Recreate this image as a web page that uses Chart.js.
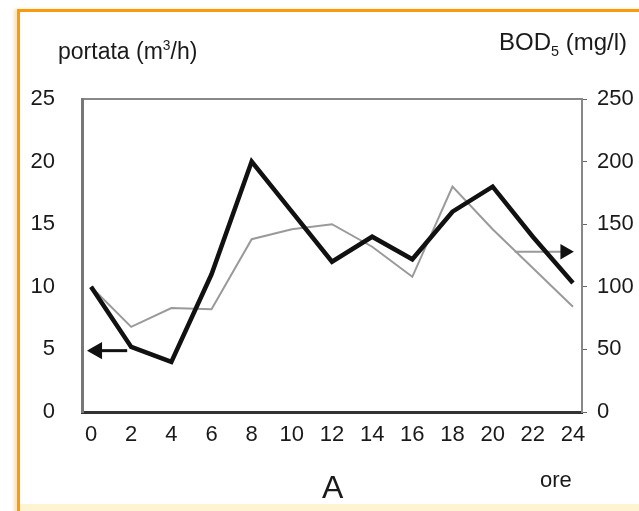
<!DOCTYPE html>
<html>
<head>
<meta charset="utf-8">
<script src="https://cdn.jsdelivr.net/npm/chart.js@4.4.0/dist/chart.umd.min.js"></script>
<style>
  html, body { margin: 0; padding: 0; background: #fff; }
  #wrap { position: relative; width: 639px; height: 511px; overflow: hidden; font-family: "Liberation Sans", Arial, sans-serif; color: #1a1a1a; }
  #frame { position: absolute; left: 17px; top: 9px; width: 640px; height: 510px; border-top: 3px solid #f89c0e; border-left: 3px solid #f89c0e; box-shadow: -3px 0 3px #fde3b8; }
  #band { position: absolute; left: 20px; top: 504px; width: 620px; height: 7px; background: #fff4d2; }
  #chart { position: absolute; left: 0; top: 0; }
  .lbl { position: absolute; white-space: nowrap; }
  sup, sub { font-size: 60%; }
</style>
</head>
<body>
<div id="wrap">
  <div id="frame"></div>
  <div id="band"></div>
  <canvas id="chart" width="639" height="511"></canvas>
  <div class="lbl" style="left:58px; top:38px; font-size:23px;">portata (m<sup>3</sup>/h)</div>
  <div class="lbl" style="left:499px; top:28px; font-size:24px;">BOD<sub>5</sub> (mg/l)</div>
  <div class="lbl" style="left:322px; top:469px; font-size:32px;">A</div>
  <div class="lbl" style="left:540px; top:467px; font-size:22px;">ore</div>
</div>
<script>
document.addEventListener('DOMContentLoaded', function () {
    // ore del giorno
    const hours = [0, 2, 4, 6, 8, 10, 12, 14, 16, 18, 20, 22, 24];
    // portata (m3/h), asse sinistro
    const portata = [10, 5.2, 4, 11, 20, 16, 12, 14, 12.2, 16, 18, 14, 10.3];
    // BOD5 (mg/l), asse destro
    const bod = [100, 68, 83, 82, 138, 146, 150, 132, 108, 180, 146, 115, 84];
    const leftTicks = [0, 5, 10, 15, 20, 25];
    const rightTicks = [0, 50, 100, 150, 200, 250];
    // frecce che indicano l'asse di ciascuna curva
    const arrowPortata = [{ x: 0.3, y: 4.9 }, { x: 1.8, y: 4.9 }];
    const arrowBod = [{ x: 21.1, y: 128 }, { x: 23.6, y: 128 }];

    const tickFont = { family: '"Liberation Sans", Arial, sans-serif', size: 22 };

    const ctx = document.getElementById('chart').getContext('2d');
    new Chart(ctx, {
        type: 'line',
        data: {
            datasets: [{
                label: 'portata',
                data: hours.map((h, i) => ({ x: h, y: portata[i] })),
                yAxisID: 'y',
                borderColor: '#111',
                borderWidth: 4.5,
                pointRadius: 0,
                tension: 0
            }, {
                label: 'BOD5',
                data: hours.map((h, i) => ({ x: h, y: bod[i] })),
                yAxisID: 'y1',
                borderColor: '#9a9a9a',
                borderWidth: 2,
                pointRadius: 0,
                tension: 0
            }, {
                label: 'freccia portata',
                data: arrowPortata,
                yAxisID: 'y',
                borderColor: '#111',
                borderWidth: 3,
                pointStyle: 'triangle',
                pointRadius: [7, 0],
                pointRotation: -90,
                pointBackgroundColor: '#111',
                pointBorderColor: '#111'
            }, {
                label: 'freccia BOD',
                data: arrowBod,
                yAxisID: 'y1',
                borderColor: '#999',
                borderWidth: 2,
                pointStyle: 'triangle',
                pointRadius: [0, 7],
                pointRotation: 90,
                pointBackgroundColor: '#111',
                pointBorderColor: '#111'
            }]
        },
        options: {
            responsive: false,
            animation: false,
            layout: { padding: { top: 99, left: 0, right: 0, bottom: 0 } },
            plugins: { legend: { display: false }, tooltip: { enabled: false } },
            scales: {
                x: {
                    type: 'linear',
                    min: -0.45,
                    max: 24.45,
                    afterBuildTicks: function (axis) { axis.ticks = hours.map(v => ({ value: v })); },
                    afterFit: function (axis) { axis.height = 99; },
                    grid: { display: false, drawOnChartArea: false },
                    border: { color: '#333', width: 3 },
                    ticks: { color: '#1a1a1a', font: tickFont, padding: 2, maxRotation: 0 }
                },
                xTop: {
                    type: 'linear',
                    position: 'top',
                    min: -0.45,
                    max: 24.45,
                    afterFit: function (axis) { axis.height = 0; },
                    grid: { display: false },
                    border: { color: '#888', width: 2 },
                    ticks: { display: false }
                },
                y: {
                    position: 'left',
                    min: 0,
                    max: 25,
                    afterBuildTicks: function (axis) { axis.ticks = leftTicks.map(v => ({ value: v })); },
                    afterFit: function (axis) { axis.width = 82; },
                    grid: { display: false },
                    border: { color: '#777', width: 3 },
                    ticks: { color: '#1a1a1a', font: tickFont, padding: 19 }
                },
                y1: {
                    position: 'right',
                    min: 0,
                    max: 250,
                    afterBuildTicks: function (axis) { axis.ticks = rightTicks.map(v => ({ value: v })); },
                    afterFit: function (axis) { axis.width = 57; },
                    grid: { drawOnChartArea: false, tickLength: 5, color: '#666' },
                    border: { color: '#888', width: 2 },
                    ticks: { color: '#1a1a1a', font: tickFont, padding: 10 }
                }
            }
        }
    });
});
</script>
</body>
</html>
